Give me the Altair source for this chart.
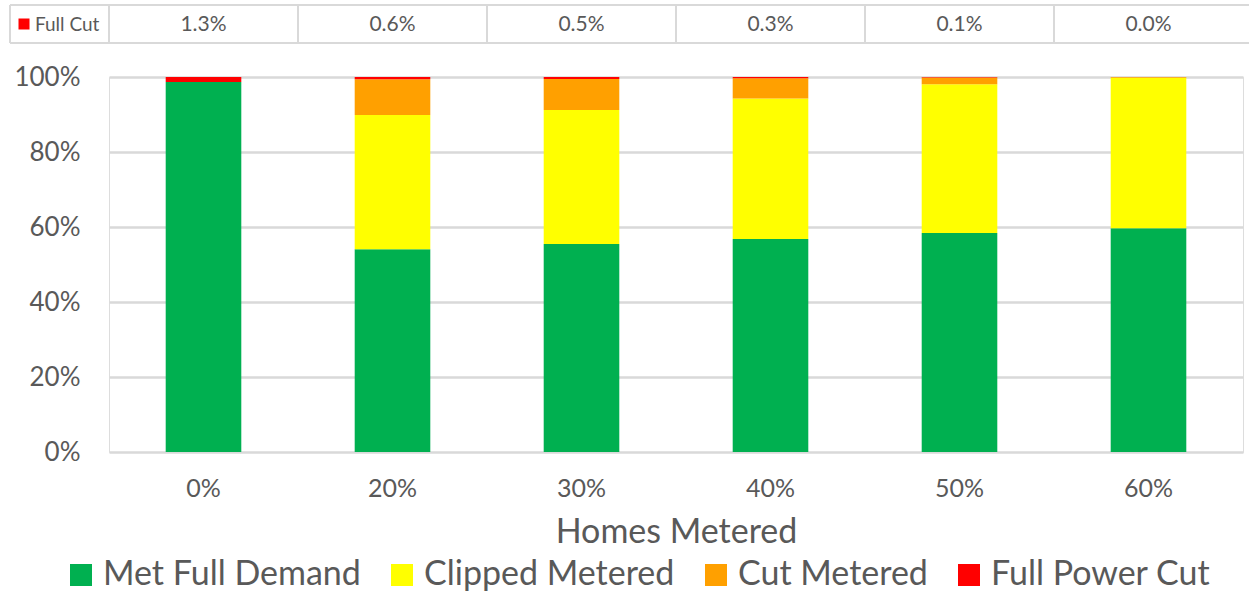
import altair as alt
import pandas as pd

# ---- data ----
categories = ["0%", "20%", "30%", "40%", "50%", "60%"]
met_full_demand = [98.7, 54.1, 55.5, 56.8, 58.4, 59.7]
clipped_metered = [0.0, 35.8, 35.7, 37.5, 39.7, 40.1]
cut_metered = [0.0, 9.5, 8.3, 5.4, 1.8, 0.2]
full_power_cut = [1.3, 0.6, 0.5, 0.3, 0.1, 0.0]

series_names = ["Met Full Demand", "Clipped Metered", "Cut Metered", "Full Power Cut"]
series_colors = ["#00B050", "#FFFF00", "#FFA000", "#FF0000"]
series_values = [met_full_demand, clipped_metered, cut_metered, full_power_cut]

rows = []
for s_i, (name, vals) in enumerate(zip(series_names, series_values)):
    for c, v in zip(categories, vals):
        rows.append({"homes": c, "series": name, "value": v / 100.0, "ord": s_i})
df = pd.DataFrame(rows)

table_df = pd.DataFrame({
    "pos": [i + 0.5 for i in range(len(categories))],
    "txt": [f"{v:.1f}%" for v in full_power_cut],
})
bounds_df = pd.DataFrame({"b": list(range(len(categories)))})

FONT = "Lato"
GREY = "#595959"
LINE = "#D9D9D9"

bars = alt.Chart(df).mark_bar().encode(
    x=alt.X("homes:N", sort=categories,
            scale=alt.Scale(paddingInner=0.6, paddingOuter=0.3),
            axis=alt.Axis(title="Homes Metered", labelAngle=0, ticks=False, tickSize=0,
                          domain=False, labelFontSize=25, labelColor=GREY,
                          labelFont=FONT, labelPadding=24, titleFont=FONT,
                          titleFontSize=34, titleFontWeight="normal",
                          titleColor=GREY, titlePadding=14)),
    y=alt.Y("value:Q", stack="zero",
            scale=alt.Scale(domain=[0, 1]),
            axis=alt.Axis(title=None, format=".0%", values=[0, 0.2, 0.4, 0.6, 0.8, 1.0],
                          ticks=False, domain=False, labelFontSize=26,
                          labelColor=GREY, labelFont=FONT, labelPadding=29,
                          gridColor=LINE, gridWidth=2.5)),
    color=alt.Color("series:N",
                    scale=alt.Scale(domain=series_names, range=series_colors),
                    legend=alt.Legend(title=None, orient="none", legendX=-45, legendY=481,
                                      direction="horizontal", symbolType="square",
                                      symbolSize=484, symbolStrokeWidth=0,
                                      labelFontSize=34, labelFont=FONT, labelColor=GREY,
                                      labelOffset=5, columnPadding=24,
                                      labelLimit=400)),
    order=alt.Order("ord:Q", sort="ascending"),
)

tbl_scale = alt.Scale(domain=[0, len(categories)])

table_text = alt.Chart(table_df).mark_text(
    font=FONT, fontSize=21, color=GREY, baseline="middle", align="center"
).encode(
    x=alt.X("pos:Q", scale=tbl_scale, axis=None),
    y=alt.value(-52),
    text="txt:N",
)

table_vlines = alt.Chart(bounds_df).mark_rule(color=LINE, strokeWidth=2).encode(
    x=alt.X("b:Q", scale=tbl_scale, axis=None),
    y=alt.value(-72),
    y2=alt.value(-34),
)

one = pd.DataFrame({"label": ["Full Cut"]})
table_frame_top = alt.Chart(one).mark_rule(color=LINE, strokeWidth=2).encode(
    x=alt.value(-99), x2=alt.value(1140), y=alt.value(-72))
table_frame_bot = alt.Chart(one).mark_rule(color=LINE, strokeWidth=2).encode(
    x=alt.value(-99), x2=alt.value(1140), y=alt.value(-34))
table_frame_left = alt.Chart(one).mark_rule(color=LINE, strokeWidth=2).encode(
    x=alt.value(-99), y=alt.value(-72), y2=alt.value(-34))
full_cut_sq = alt.Chart(one).mark_square(color="#FF0000", size=121, opacity=1).encode(
    x=alt.value(-85), y=alt.value(-53))
full_cut_lbl = alt.Chart(one).mark_text(
    font=FONT, fontSize=19, color=GREY, align="left", baseline="middle"
).encode(x=alt.value(-74), y=alt.value(-52), text="label:N")

chart = alt.layer(
    bars, table_text, table_vlines, table_frame_top, table_frame_bot,
    table_frame_left, full_cut_sq, full_cut_lbl
).resolve_scale(x="independent").properties(
    width=1134, height=375,
    autosize=alt.AutoSizeParams(type="none"),
    padding={"left": 109, "top": 77, "right": 6, "bottom": 143},
).configure_view(stroke=None).configure(background="white")

chart.save("out.html", embed_options={"renderer": "svg", "actions": False})
